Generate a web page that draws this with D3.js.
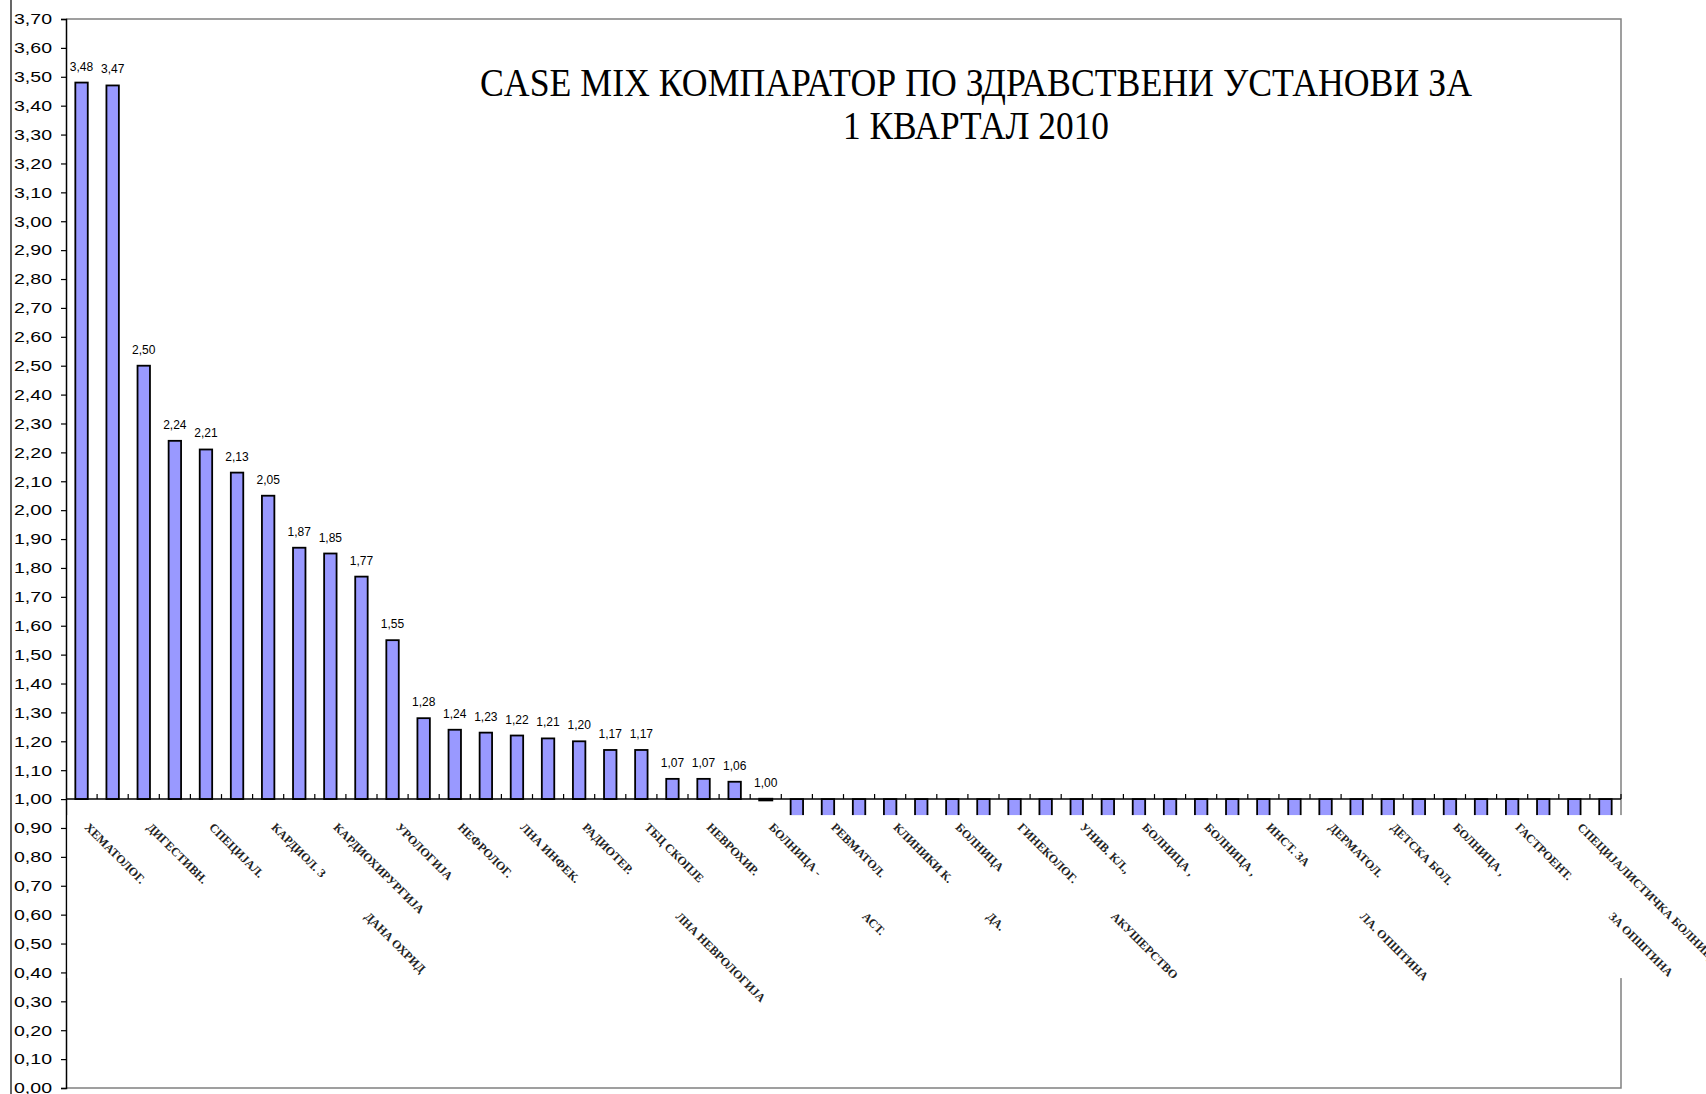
<!DOCTYPE html>
<html>
<head>
<meta charset="utf-8">
<script src="https://cdn.jsdelivr.net/npm/d3@7"></script>
<style>
  body { margin: 0; background: #fff; }
  svg { display: block; }
</style>
</head>
<body>
<svg id="chart"></svg>
<script>
const width = 1706;
const height = 1094;

// category names (only every second one is shown on the axis)
const categories = [
  "ХЕМАТОЛОГ.", "ОНКОЛОГИЈА",
  "ДИГЕСТИВН.", "ТОРАКАЛНА",
  "СПЕЦИЈАЛ.", "ПЛАСТИЧНА",
  "КАРДИОЛ. З", "НЕУРОЛОГ.",
  "КАРДИОХИРУРГИЈА\nДАНА ОХРИД", "ОЧНИ БОЛЕСТИ",
  "УРОЛОГИЈА", "ОРТОПЕДИЈА",
  "НЕФРОЛОГ.", "ТРАУМАТОЛ.",
  "ЛНА ИНФЕК.", "ЕНДОКРИН.",
  "РАДИОТЕР.", "ПУЛМОЛОГ.",
  "ТБЦ СКОПЈЕ\nЛНА НЕВРОЛОГИЈА", "ПСИХИЈАТ.",
  "НЕВРОХИР.", "ТОКСИКОЛ.",
  "БОЛНИЦА -", "ИНФЕКТИВНИ",
  "РЕВМАТОЛ.\nАСТ.", "БОЛНИЦА Б.",
  "КЛИНИКИ К.", "БОЛНИЦА О.",
  "БОЛНИЦА\nДА.", "БОЛНИЦА К.",
  "ГИНЕКОЛОГ.", "БОЛНИЦА С.",
  "УНИВ. КЛ.,\nАКУШЕРСТВО", "БОЛНИЦА П.",
  "БОЛНИЦА ,", "БОЛНИЦА Т.",
  "БОЛНИЦА ,", "БОЛНИЦА В.",
  "ИНСТ. ЗА", "БОЛНИЦА Г.",
  "ДЕРМАТОЛ.\nЛА. ОПШТИНА", "БОЛНИЦА Ш.",
  "ДЕТСКА БОЛ.", "БОЛНИЦА Д.",
  "БОЛНИЦА ,", "БОЛНИЦА Ч.",
  "ГАСТРОЕНТ.", "БОЛНИЦА Р.",
  "СПЕЦИЈАЛИСТИЧКА БОЛНИЦА\nЗА ОПШТИНА", "БОЛНИЦА Ќ."
];

// case mix index per institution (values below 1,00 are hidden by the label area)
const values = [
  3.48, 3.47, 2.50, 2.24, 2.21, 2.13, 2.05, 1.87, 1.85, 1.77,
  1.55, 1.28, 1.24, 1.23, 1.22, 1.21, 1.20, 1.17, 1.17, 1.07,
  1.07, 1.06, 1.00,
  0.94, 0.93, 0.92, 0.91, 0.90, 0.89, 0.88, 0.86, 0.85, 0.84,
  0.82, 0.81, 0.79, 0.78, 0.76, 0.74, 0.72, 0.70, 0.68, 0.66,
  0.63, 0.60, 0.57, 0.53, 0.49, 0.45, 0.42
];

const yTicks = d3.range(0, 38).map(i => i / 10);
const baseline = 1.0;

const titleLines = [
  "CASE MIX КОМПАРАТОР ПО ЗДРАВСТВЕНИ УСТАНОВИ ЗА",
  "1 КВАРТАЛ 2010"
];

const fmt = d => d3.format(".2f")(d).replace(".", ",");

const svg = d3.select("#chart")
  .attr("width", width)
  .attr("height", height);

const plot = { left: 66, right: 1621, top: 19, bottom: 1088 };

const x = d3.scaleBand()
  .domain(d3.range(values.length))
  .range([plot.left, plot.right])
  .paddingInner(0.6)
  .paddingOuter(0.3);

const y = d3.scaleLinear()
  .domain([0, 3.7])
  .range([plot.bottom, plot.top]);

// outer chart frame (only left edge shows)
svg.append("line")
  .attr("x1", 11).attr("x2", 11)
  .attr("y1", 0).attr("y2", height)
  .attr("stroke", "#000")
  .attr("stroke-width", 1.2);

// plot area border
svg.append("path")
  .attr("d", `M${plot.left},${plot.top}H${plot.right}V${plot.bottom}H${plot.left}`)
  .attr("fill", "none")
  .attr("stroke", "#808080")
  .attr("stroke-width", 1.5);

// bars from the 1,00 crossing
svg.append("g")
  .selectAll("rect")
  .data(values)
  .join("rect")
  .attr("x", (d, i) => x(i))
  .attr("width", x.bandwidth())
  .attr("y", d => Math.min(y(d), y(baseline)))
  .attr("height", d => Math.max(Math.abs(y(d) - y(baseline)), 1))
  .attr("fill", "#9999ff")
  .attr("stroke", "#000")
  .attr("stroke-width", d => d === baseline ? 2.5 : 1.8);

// value labels
svg.append("g")
  .selectAll("text")
  .data(values.map((v, i) => ({ v, i })).filter(d => d.v >= baseline))
  .join("text")
  .attr("x", d => x(d.i) + x.bandwidth() / 2)
  .attr("y", d => y(d.v) - 12)
  .attr("text-anchor", "middle")
  .attr("font-family", "Liberation Sans, Arial, sans-serif")
  .attr("font-size", 12)
  .attr("fill", "#000")
  .text(d => fmt(d.v));

// y axis
const yAxis = svg.append("g")
  .attr("transform", `translate(${plot.left},0)`)
  .call(d3.axisLeft(y).tickValues(yTicks).tickFormat(fmt).tickSize(5).tickPadding(9));

yAxis.select(".domain").attr("stroke", "#000").attr("stroke-width", 1.5);
yAxis.selectAll(".tick line").attr("stroke", "#000").attr("stroke-width", 1.2);
yAxis.selectAll(".tick text")
  .attr("font-family", "Liberation Sans, Arial, sans-serif")
  .attr("font-size", 15)
  .attr("fill", "#000")
  .attr("textLength", 38)
  .attr("lengthAdjust", "spacingAndGlyphs");

// category axis at 1,00 with ticks between categories
const step = x.step();
const xAxis = svg.append("g");
xAxis.append("line")
  .attr("x1", plot.left).attr("x2", plot.right)
  .attr("y1", y(baseline)).attr("y2", y(baseline))
  .attr("stroke", "#000")
  .attr("stroke-width", 1.5);
xAxis.selectAll(".xt")
  .data(d3.range(1, values.length + 1))
  .join("line")
  .attr("class", "xt")
  .attr("x1", i => plot.left + i * step)
  .attr("x2", i => plot.left + i * step)
  .attr("y1", y(baseline))
  .attr("y2", y(baseline) - 5)
  .attr("stroke", "#000")
  .attr("stroke-width", 1.2);

// label area (opaque, hides the lower part of the bars)
svg.append("rect")
  .attr("x", plot.left + 1.5)
  .attr("y", y(baseline) + 16)
  .attr("width", width - plot.left)
  .attr("height", 163)
  .attr("fill", "#fff");

// rotated category labels, every second one
const lab = svg.append("g")
  .selectAll("g")
  .data(categories.map((c, i) => ({ c, i })).filter(d => d.i % 2 === 0))
  .join("g")
  .attr("transform", d => `translate(${x(d.i) + x.bandwidth() / 2 + 2.5},${y(baseline) + 29}) rotate(45)`)
  .attr("font-family", "Liberation Serif, Times New Roman, serif")
  .attr("font-size", 12)
  .attr("font-weight", "bold")
  .attr("fill", "#222");

lab.each(function (d) {
  const parts = d.c.split("\n");
  const g = d3.select(this);
  g.append("text").attr("x", 0).attr("y", 0).text(parts[0]);
  if (parts[1]) {
    g.append("text").attr("x", 85).attr("y", 41).text(parts[1]);
  }
});

// title
svg.append("g")
  .selectAll("text")
  .data(titleLines)
  .join("text")
  .attr("x", 976)
  .attr("y", (d, i) => 96 + i * 43)
  .attr("text-anchor", "middle")
  .attr("font-family", "Liberation Serif, Times New Roman, serif")
  .attr("font-size", 39)
  .attr("fill", "#000")
  .attr("textLength", (d, i) => i === 0 ? 992 : 266)
  .attr("lengthAdjust", "spacingAndGlyphs")
  .text(d => d);
</script>
</body>
</html>
